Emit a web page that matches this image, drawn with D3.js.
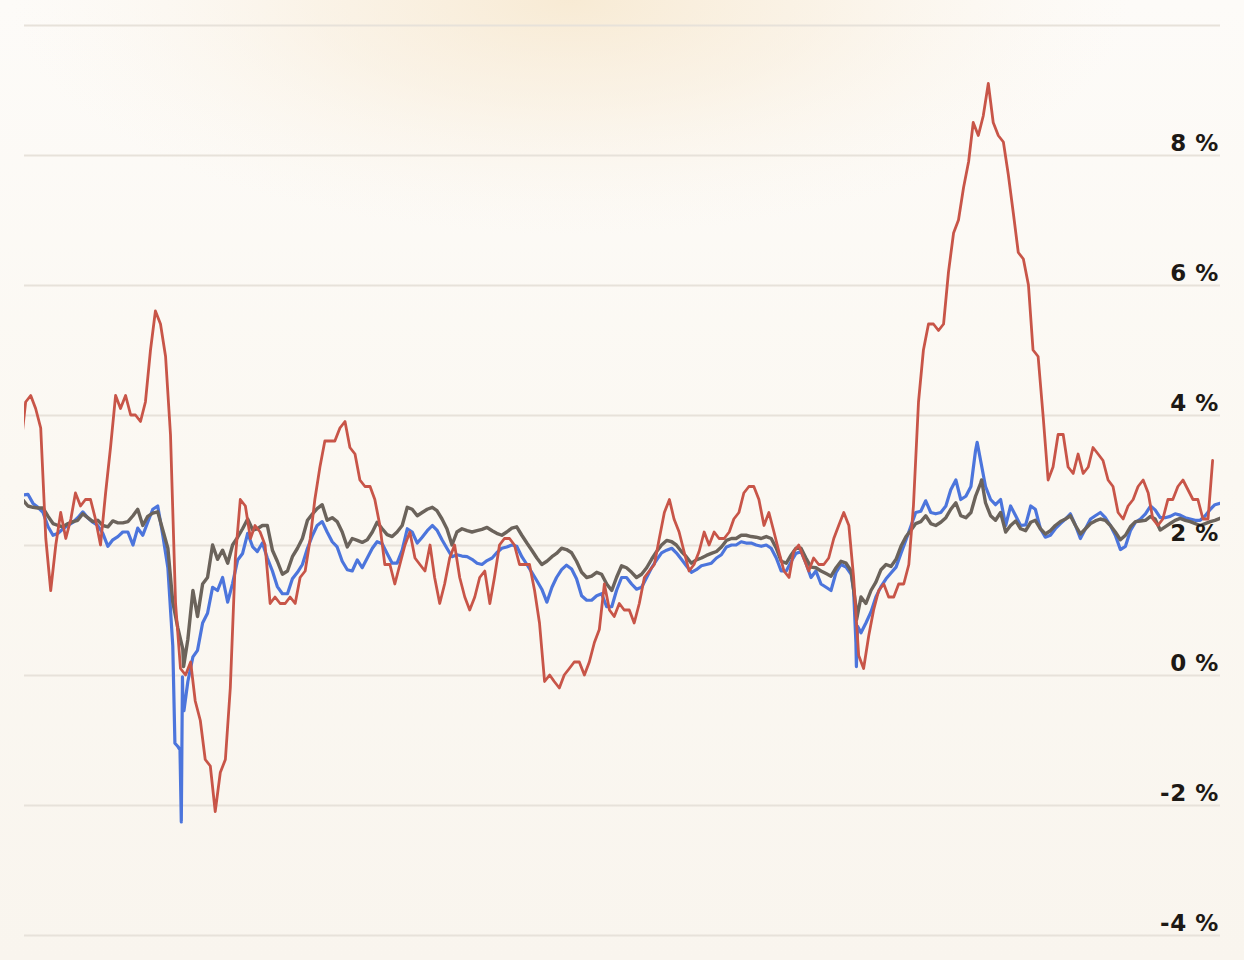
<!DOCTYPE html>
<html>
<head>
<meta charset="utf-8">
<script src="https://cdn.jsdelivr.net/npm/d3@7"></script>
<style>
html,body{margin:0;padding:0;background:#faf7f1;}
svg{display:block;}
</style>
</head>
<body>
<svg id="chart" width="1244" height="960"></svg>
<script>
// ---------- DATA ----------
// y-axis ticks (percent)
const yTicks = [-4, -2, 0, 2, 4, 6, 8, 10];
const yLabelled = [-4, -2, 0, 2, 4, 6, 8];

// Red series: monthly year-over-year inflation, Apr 2006 .. Mar 2026 (null = no reading)
const redStart = "2006-04";
const redValues = [
  3.5, 4.2, 4.3, 4.1, 3.8, 2.1, 1.3, 2.0, 2.5,
  2.1, 2.4, 2.8, 2.6, 2.7, 2.7, 2.4, 2.0, 2.8, 3.5, 4.3, 4.1,
  4.3, 4.0, 4.0, 3.9, 4.2, 5.0, 5.6, 5.4, 4.9, 3.7, 1.1, 0.1,
  0.0, 0.2, -0.4, -0.7, -1.3, -1.4, -2.1, -1.5, -1.3, -0.2, 1.8, 2.7,
  2.6, 2.1, 2.3, 2.2, 2.0, 1.1, 1.2, 1.1, 1.1, 1.2, 1.1, 1.5,
  1.6, 2.1, 2.7, 3.2, 3.6, 3.6, 3.6, 3.8, 3.9, 3.5, 3.4, 3.0,
  2.9, 2.9, 2.7, 2.3, 1.7, 1.7, 1.4, 1.7, 2.0, 2.2, 1.8, 1.7,
  1.6, 2.0, 1.5, 1.1, 1.4, 1.8, 2.0, 1.5, 1.2, 1.0, 1.2, 1.5,
  1.6, 1.1, 1.5, 2.0, 2.1, 2.1, 2.0, 1.7, 1.7, 1.7, 1.3, 0.8,
  -0.1, 0.0, -0.1, -0.2, 0.0, 0.1, 0.2, 0.2, 0.0, 0.2, 0.5, 0.7,
  1.4, 1.0, 0.9, 1.1, 1.0, 1.0, 0.8, 1.1, 1.5, 1.6, 1.7, 2.1,
  2.5, 2.7, 2.4, 2.2, 1.9, 1.6, 1.7, 1.9, 2.2, 2.0, 2.2, 2.1,
  2.1, 2.2, 2.4, 2.5, 2.8, 2.9, 2.9, 2.7, 2.3, 2.5, 2.2, 1.9,
  1.6, 1.5, 1.9, 2.0, 1.8, 1.6, 1.8, 1.7, 1.7, 1.8, 2.1, 2.3,
  2.5, 2.3, 1.5, 0.3, 0.1, 0.6, 1.0, 1.3, 1.4, 1.2, 1.2, 1.4,
  1.4, 1.7, 2.6, 4.2, 5.0, 5.4, 5.4, 5.3, 5.4, 6.2, 6.8, 7.0,
  7.5, 7.9, 8.5, 8.3, 8.6, 9.1, 8.5, 8.3, 8.2, 7.7, 7.1, 6.5,
  6.4, 6.0, 5.0, 4.9, 4.0, 3.0, 3.2, 3.7, 3.7, 3.2, 3.1, 3.4,
  3.1, 3.2, 3.5, 3.4, 3.3, 3.0, 2.9, 2.5, 2.4, 2.6, 2.7, 2.9,
  3.0, 2.8, 2.4, 2.3, 2.4, 2.7, 2.7, 2.9, 3.0, null, 2.7, 2.7,
  2.4, 2.4, 3.3
];

// Blue & gray series: mid-month readings, Apr 2006 .. Apr 2026
const bgStart = "2006-04";
const blueValues = [
  2.77, 2.78, 2.64, 2.58, 2.5, 2.28, 2.15, 2.18, 2.25,
  2.3, 2.35, 2.42, 2.51, 2.42, 2.35, 2.3, 2.18, 1.98, 2.08, 2.13, 2.2,
  2.2, 2.0, 2.26, 2.15, 2.35, 2.55, 2.6, 2.15, 1.65, 0.45, -1.1, -0.3,
  -0.1, 0.28, 0.38, 0.8, 0.95, 1.35, 1.3, 1.5, 1.12, 1.41, 1.77, 1.87,
  2.18, 1.97, 1.9, 2.03, 1.8, 1.6, 1.36, 1.25, 1.25, 1.48, 1.58, 1.7,
  1.95, 2.15, 2.3, 2.36, 2.2, 2.05, 1.97, 1.75, 1.62, 1.6, 1.77, 1.65,
  1.8, 1.95, 2.05, 2.02, 1.87, 1.72, 1.72, 1.92, 2.25, 2.2, 2.03, 2.12,
  2.22, 2.3, 2.23, 2.08, 1.95, 1.82, 1.85, 1.83, 1.82, 1.78, 1.72, 1.7,
  1.76, 1.8, 1.88, 1.95, 1.97, 2.0, 1.98, 1.82, 1.7, 1.58, 1.45, 1.32,
  1.12, 1.35, 1.5, 1.62, 1.69, 1.63, 1.48, 1.22, 1.15, 1.15, 1.22, 1.25,
  1.05, 1.05, 1.3, 1.5, 1.5, 1.4, 1.32, 1.35, 1.5, 1.65, 1.77, 1.88,
  1.92, 1.95, 1.88, 1.78, 1.68, 1.58, 1.62, 1.68, 1.7, 1.72, 1.8, 1.85,
  1.97, 2.0, 2.0, 2.05, 2.03, 2.03, 2.0, 1.98, 2.0, 1.95, 1.8, 1.6,
  1.6, 1.75, 1.87, 1.9, 1.72, 1.5, 1.6, 1.4, 1.35, 1.3, 1.58, 1.7,
  1.66, 1.55, 0.5, 0.65, 0.8, 0.97, 1.2, 1.36, 1.48, 1.57, 1.66, 1.87,
  2.08, 2.3, 2.5, 2.52, 2.68, 2.5, 2.48, 2.5, 2.6, 2.85, 3.0, 2.7,
  2.75, 2.9, 3.45, 3.3, 2.9, 2.7, 2.62, 2.7, 2.3, 2.6, 2.45, 2.3,
  2.31, 2.6, 2.55, 2.25, 2.12, 2.15, 2.25, 2.33, 2.4, 2.48, 2.3, 2.1,
  2.25, 2.4, 2.45, 2.5, 2.42, 2.3, 2.15, 1.93, 1.98, 2.22, 2.35, 2.4,
  2.48, 2.6, 2.54, 2.42, 2.42, 2.44, 2.48, 2.46, 2.42, 2.4, 2.38, 2.38,
  2.45, 2.55, 2.62, 2.64
];
const grayValues = [
  2.69, 2.6, 2.58, 2.57, 2.57, 2.44, 2.33, 2.3, 2.28,
  2.33, 2.36, 2.38, 2.48, 2.42, 2.36, 2.38, 2.3, 2.28, 2.37, 2.34, 2.34,
  2.36, 2.45, 2.55, 2.3, 2.44, 2.49, 2.51, 2.23, 1.95, 1.12, 0.72, 0.4,
  0.55, 1.3, 0.9, 1.4, 1.5, 2.0, 1.78, 1.92, 1.72, 2.0, 2.12, 2.25,
  2.4, 2.23, 2.25, 2.3, 2.3, 1.92, 1.75, 1.55, 1.6, 1.82, 1.95, 2.1,
  2.38, 2.48, 2.56, 2.62, 2.38, 2.42, 2.36, 2.2, 1.97, 2.1, 2.07, 2.04,
  2.08, 2.2, 2.35, 2.25, 2.16, 2.13, 2.2, 2.3, 2.58, 2.55, 2.45, 2.5,
  2.55, 2.58, 2.53, 2.4, 2.25, 2.0, 2.2, 2.25, 2.22, 2.2, 2.22, 2.24,
  2.27, 2.22, 2.18, 2.15, 2.2, 2.26, 2.28, 2.15, 2.03, 1.92, 1.8, 1.7,
  1.75, 1.82, 1.87, 1.95, 1.93, 1.88, 1.75, 1.58, 1.5, 1.52, 1.58, 1.55,
  1.4, 1.3, 1.5, 1.68, 1.65, 1.58, 1.5, 1.55, 1.65, 1.78, 1.9, 2.0,
  2.07, 2.05, 2.0, 1.9, 1.82, 1.72, 1.77, 1.8, 1.84, 1.87, 1.9, 1.97,
  2.07, 2.1, 2.1, 2.15, 2.15, 2.13, 2.12, 2.1, 2.13, 2.1, 1.95, 1.75,
  1.72, 1.85, 1.95, 1.95, 1.8, 1.66, 1.65, 1.6, 1.56, 1.52, 1.65, 1.75,
  1.72, 1.6, 1.05, 1.2, 1.1, 1.3, 1.43, 1.62, 1.7, 1.67, 1.78, 1.98,
  2.13, 2.23, 2.33, 2.36, 2.45, 2.33, 2.3, 2.35, 2.42, 2.55, 2.65, 2.45,
  2.42, 2.5, 2.75, 2.95, 2.65, 2.45, 2.38, 2.5, 2.2, 2.3, 2.37, 2.25,
  2.22, 2.35, 2.38, 2.25, 2.17, 2.22, 2.3, 2.36, 2.4, 2.45, 2.3, 2.17,
  2.25, 2.33, 2.37, 2.4, 2.38, 2.3, 2.2, 2.08, 2.15, 2.28, 2.36, 2.37,
  2.38, 2.44, 2.4, 2.23, 2.28, 2.33, 2.38, 2.41, 2.38, 2.36, 2.33, 2.3,
  2.33, 2.36, 2.38, 2.41
];
// extra intra-month readings around the sharp moves
const blueDetail = [
  ["2008-10-28", -1.05], ["2008-11-28", -1.15], ["2008-12-06", -2.26],
  ["2008-12-13", -0.03], ["2008-12-22", -0.55],
  ["2020-03-01", 1.3], ["2020-03-18", 0.13], ["2020-03-25", 0.75],
  ["2022-03-25", 3.58]
];
const grayDetail = [
  ["2008-12-20", 0.13], ["2020-03-19", 0.85], ["2022-04-21", 3.0]
];

// ---------- CHART ----------
const W = 1244, H = 960;
const plotLeft = 24, plotRight = 1220;
const svg = d3.select("#chart");
const defs = svg.append("defs");

const base = defs.append("linearGradient").attr("id", "bgBase")
  .attr("x1", 0).attr("y1", 0).attr("x2", 0).attr("y2", 1);
base.append("stop").attr("offset", 0).attr("stop-color", "#fdfbf8");
base.append("stop").attr("offset", 0.5).attr("stop-color", "#fbf8f2");
base.append("stop").attr("offset", 1).attr("stop-color", "#f9f5ee");

const glow = defs.append("radialGradient").attr("id", "glow")
  .attr("gradientUnits", "userSpaceOnUse")
  .attr("cx", 570).attr("cy", 0).attr("r", 560)
  .attr("gradientTransform", "translate(570,0) scale(1,0.42) translate(-570,0)");
glow.append("stop").attr("offset", 0).attr("stop-color", "#f6e5c8").attr("stop-opacity", 0.75);
glow.append("stop").attr("offset", 0.45).attr("stop-color", "#f7e9d2").attr("stop-opacity", 0.45);
glow.append("stop").attr("offset", 1).attr("stop-color", "#faf3e8").attr("stop-opacity", 0);

defs.append("clipPath").attr("id", "plotClip")
  .append("rect").attr("x", plotLeft).attr("y", 0)
  .attr("width", plotRight - plotLeft).attr("height", H);

// layers, in drawing order
const gBg = svg.append("g");
const gGrid = svg.append("g").attr("transform", `translate(${plotLeft},0)`);
const gLines = svg.append("g").attr("clip-path", "url(#plotClip)");
const gLabels = svg.append("g").attr("transform", `translate(${plotRight - 1},0)`);

gBg.append("rect").attr("width", W).attr("height", H).attr("fill", "url(#bgBase)");
gBg.append("rect").attr("width", W).attr("height", H).attr("fill", "url(#glow)");

const x = d3.scaleUtc()
  .domain([new Date(Date.UTC(2006, 3, 21)), new Date(Date.UTC(2026, 3, 15))])
  .range([plotLeft, plotRight]);
const y = d3.scaleLinear().domain([-4, 10]).range([935, 25]);

// gridlines
gGrid.call(d3.axisRight(y).tickValues(yTicks).tickSize(plotRight - plotLeft).tickFormat(""));
gGrid.select(".domain").remove();
gGrid.selectAll(".tick line").attr("stroke", "#e7e2da").attr("stroke-width", 2);

// labels
gLabels.call(d3.axisLeft(y).tickValues(yLabelled).tickSize(0).tickPadding(0).tickFormat(d => `${d} %`));
gLabels.select(".domain").remove();
gLabels.selectAll(".tick text")
  .attr("x", 0)
  .attr("dy", -5)
  .attr("text-anchor", "end")
  .attr("fill", "#1d1915")
  .style("font-family", "'DejaVu Sans', sans-serif")
  .style("font-weight", 700)
  .style("font-size", "23px")
  .style("letter-spacing", "0.6px");

const parseMonth = d3.utcParse("%Y-%m");
const parseDay = d3.utcParse("%Y-%m-%d");

const redData = redValues.map((v, i) => ({ date: d3.utcMonth.offset(parseMonth(redStart), i), v }))
  .filter(d => d.v !== null);

function monthly(values, detail) {
  const s = parseMonth(bgStart);
  const pts = values.map((v, i) => ({ date: d3.utcDay.offset(d3.utcMonth.offset(s, i), 14), v }));
  detail.forEach(([d, v]) => pts.push({ date: parseDay(d), v }));
  return pts.sort((a, b) => a.date - b.date);
}
const blueData = monthly(blueValues, blueDetail);
const grayData = monthly(grayValues, grayDetail);

const line = d3.line().x(d => x(d.date)).y(d => y(d.v));

[[blueData, "#4c75dc", 3.2], [grayData, "#6b635b", 3.4], [redData, "#c85548", 2.8]]
  .forEach(([data, color, w]) => {
    gLines.append("path").datum(data)
      .attr("d", line)
      .attr("fill", "none")
      .attr("stroke", color)
      .attr("stroke-width", w)
      .attr("stroke-linejoin", "round")
      .attr("stroke-linecap", "round");
  });
</script>
</body>
</html>
